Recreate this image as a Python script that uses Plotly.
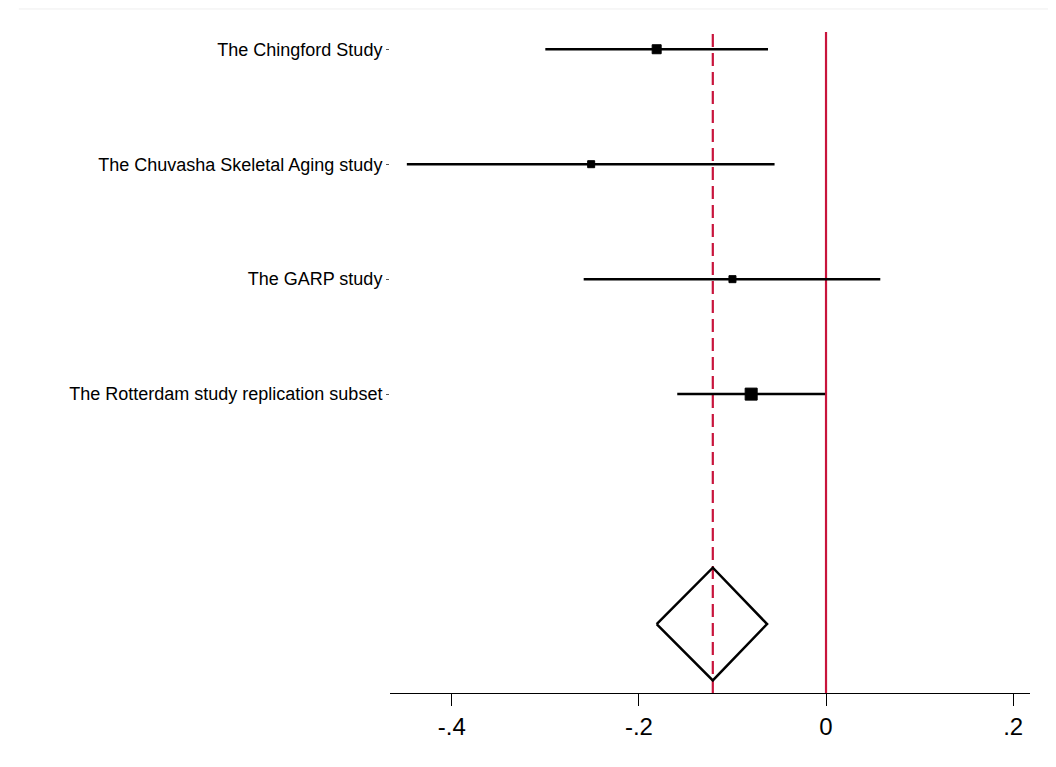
import plotly.graph_objects as go

# ---- data ----
studies = ["The Chingford Study", "The Chuvasha Skeletal Aging study",
           "The GARP study", "The Rotterdam study replication subset"]
est = [-0.181, -0.251, -0.100, -0.080]
lo = [-0.300, -0.448, -0.259, -0.159]
hi = [-0.062, -0.055, 0.058, -0.001]
weights = [9, 7, 7, 12]   # marker size (proportional to weight)
rows = [1, 2, 3, 4]

pooled_row = 6
pooled_est = -0.121
pooled_lo = -0.181
pooled_hi = -0.063

xticks = [-0.4, -0.2, 0, 0.2]
xticklabels = ["-.4", "-.2", "0", ".2"]

RED = "#c8143c"
FONT = "Liberation Sans, Arial, sans-serif"
DIAMOND_HALF = 0.49

fig = go.Figure()

# confidence intervals + point estimates
fig.add_trace(go.Scatter(
    x=est, y=rows, mode="markers",
    marker=dict(symbol="square", size=weights, color="black", opacity=1,
                line=dict(color="black", width=1)),
    error_x=dict(type="data", symmetric=False,
                 array=[h - e for h, e in zip(hi, est)],
                 arrayminus=[e - l for e, l in zip(est, lo)],
                 width=0, thickness=2.5, color="black"),
    showlegend=False, hoverinfo="skip"))

# pooled diamond
dx = [pooled_lo, pooled_est, pooled_hi, pooled_est, pooled_lo]
dy = [pooled_row, pooled_row - DIAMOND_HALF, pooled_row,
      pooled_row + DIAMOND_HALF, pooled_row]
fig.add_trace(go.Scatter(x=dx, y=dy, mode="lines",
                         line=dict(color="black", width=2.5),
                         showlegend=False, hoverinfo="skip"))

# reference lines
fig.add_shape(type="line", xref="x", yref="paper", x0=0, x1=0, y0=0, y1=1,
              line=dict(color=RED, width=2.2), layer="below")
fig.add_shape(type="line", xref="x", yref="paper", x0=pooled_est, x1=pooled_est,
              y0=0, y1=1, line=dict(color=RED, width=2.2, dash="13px,6px"),
              layer="below")
# faint frame line at top
fig.add_shape(type="line", xref="paper", yref="paper", x0=-0.58, x1=1.06,
              y0=1.0348, y1=1.0348, line=dict(color="#eeeeee", width=1))

fig.update_layout(
    width=1056, height=767,
    margin=dict(l=382, r=34, t=24, b=82),
    paper_bgcolor="white", plot_bgcolor="white",
    font=dict(family=FONT, color="black"),
    xaxis=dict(range=[-0.466, 0.218], tickvals=xticks, ticktext=xticklabels,
               showgrid=False, zeroline=False, showline=True,
               linecolor="black", linewidth=1, ticks="outside", ticklen=12,
               tickcolor="black", tickwidth=1,
               tickfont=dict(size=24, family=FONT, color="black")),
    yaxis=dict(range=[6.6, 0.85], tickvals=rows, ticktext=studies,
               showgrid=False, zeroline=False, showline=False,
               ticks="outside", ticklen=3, tickcolor="#555555",
               tickfont=dict(size=18, family=FONT, color="black")),
)

fig.write_html("out.html")
